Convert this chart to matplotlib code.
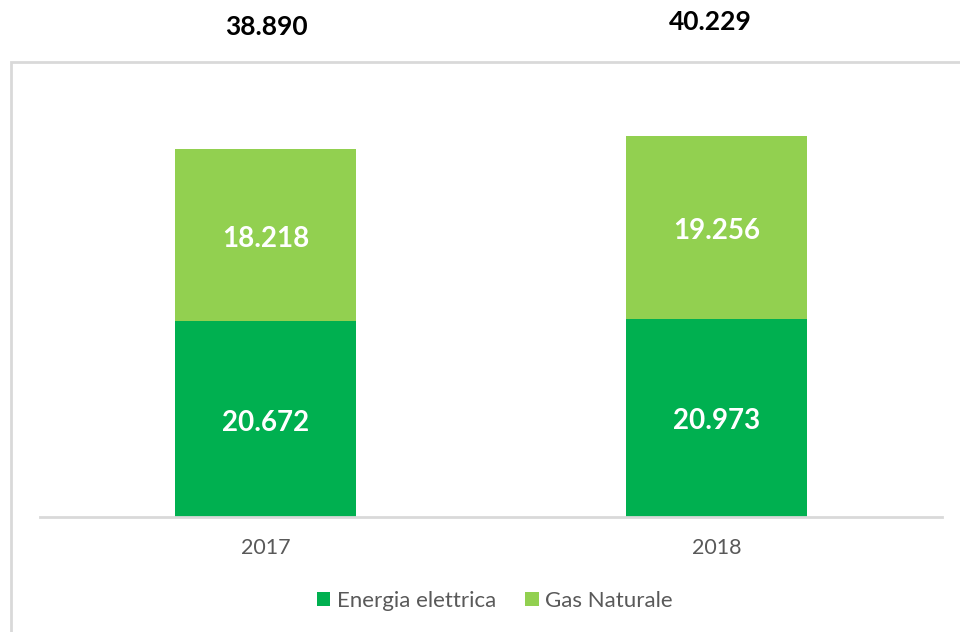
import matplotlib
matplotlib.use("Agg")
import matplotlib.pyplot as plt
from matplotlib.patches import Rectangle

years = ["2017", "2018"]
energia = [20.672, 20.973]
gas = [18.218, 19.256]
totals = [38.890, 40.229]
energia_lbl = ["20.672", "20.973"]
gas_lbl = ["18.218", "19.256"]
total_lbl = ["38.890", "40.229"]

C_EN = "#00B050"
C_GAS = "#92D050"
FONT = ["Lato", "DejaVu Sans"]
plt.rcParams["font.family"] = FONT

W, H = 960, 632
fig = plt.figure(figsize=(9.6, 6.32), dpi=100)

# outer border
fig.patches.append(Rectangle((11 / W, -0.1), 1.2, (H - 62) / H + 0.1, transform=fig.transFigure,
                             fill=False, edgecolor="#D9D9D9", linewidth=2, zorder=0))

ax = fig.add_axes([40 / W, (H - 517) / H, (942 - 40) / W, (517 - 62) / H])
x = list(range(len(years)))
b1 = ax.bar(x, energia, width=0.4, color=C_EN, label="Energia elettrica")
b2 = ax.bar(x, gas, width=0.4, bottom=energia, color=C_GAS, label="Gas Naturale")
ax.set_xlim(-0.5, 1.5)
ax.set_ylim(0, 48.1)
ax.set_yticks([])
ax.set_xticks(x)
ax.set_xticklabels(years, fontsize=15.5, color="#595959")
ax.tick_params(axis="x", length=0, pad=15)
for s in ["top", "left", "right"]:
    ax.spines[s].set_visible(False)
ax.spines["bottom"].set_color("#D9D9D9")
ax.spines["bottom"].set_linewidth(2)

for i in x:
    ax.annotate(energia_lbl[i], (i, energia[i] / 2), xytext=(0, -2.5), textcoords="offset points",
                ha="center", va="center", color="white", fontsize=20, fontweight="bold")
    ax.annotate(gas_lbl[i], (i, energia[i] + gas[i] / 2), xytext=(0, -2.5), textcoords="offset points",
                ha="center", va="center", color="white", fontsize=20, fontweight="bold")

tot_y = [27, 22]
tot_x = [266, 710]
for i in x:
    fig.text(tot_x[i] / W, 1 - tot_y[i] / H, total_lbl[i], ha="center", va="center",
             color="black", fontsize=19, fontweight="bold")

fig.legend(handles=[b1, b2], labels=["Energia elettrica", "Gas Naturale"],
           loc="center", bbox_to_anchor=(495 / W, 1 - 601 / H), ncol=2, frameon=False,
           fontsize=16, labelcolor="#595959", handlelength=0.6, handleheight=0.6,
           handletextpad=0.3, columnspacing=1.3)

fig.savefig("out.png", dpi=100)
